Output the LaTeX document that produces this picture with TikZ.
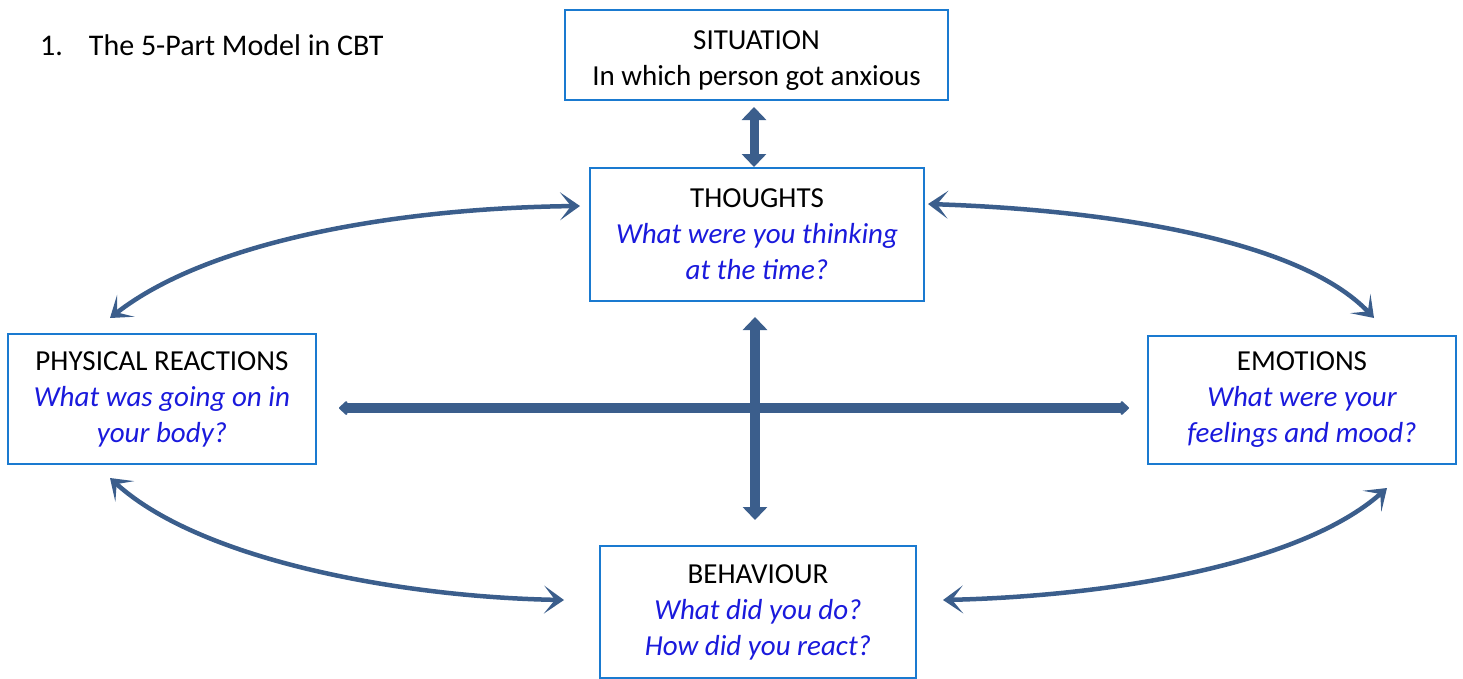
\documentclass[tikz,border=0pt]{standalone}
\usepackage{fontspec}
\setmainfont{Carlito}
\usetikzlibrary{arrows.meta}
\definecolor{boxblue}{HTML}{1A7AD0}
\definecolor{arrowblue}{HTML}{3B5E8C}
\definecolor{qblue}{HTML}{1A1ADC}
\tikzset{
  partbox/.style={draw=boxblue, line width=2pt, align=center, inner sep=0pt,
    font=\fontsize{29}{36}\selectfont},
  thickarrow/.style={draw=arrowblue, line width=9pt,
    {Triangle[width=24pt,length=13pt]}-{Triangle[width=24pt,length=13pt]}},
  flatarrow/.style={draw=arrowblue, line width=10pt,
    {Triangle[width=16pt,length=9pt,round]}-{Triangle[width=16pt,length=9pt,round]}},
  curvearrow/.style={draw=arrowblue, line width=4.5pt,
    {Stealth[length=20pt,width=28pt,inset=11pt]}-{Stealth[length=20pt,width=28pt,inset=11pt]}}
}
\newcommand{\qtext}[1]{\textcolor{qblue}{\itshape #1}}
\begin{document}
\begin{tikzpicture}[x=1pt,y=-1pt]
\useasboundingbox (0,0) rectangle (1463,678);
\node[anchor=west, font=\fontsize{30}{36}\selectfont, inner sep=0pt] (title) at (40,45) {1.\hspace{26pt}The 5-Part Model in CBT};

\node[partbox, minimum width=383pt, minimum height=90pt,
  label={[align=center, font=\fontsize{29}{36}\selectfont, inner sep=0pt, yshift=-6pt]center:SITUATION\\In which person got anxious}] (situation) at (756.5,55) {};
\node[partbox, minimum width=334pt, minimum height=133pt] (thoughts) at (757,234.5)
  {THOUGHTS\\\qtext{What were you thinking}\\\qtext{at the time?}};
\node[partbox, minimum width=308pt, minimum height=130pt] (physical) at (162,399)
  {PHYSICAL REACTIONS\\\qtext{What was going on in}\\\qtext{your body?}};
\node[partbox, minimum width=308pt, minimum height=128pt] (emotions) at (1302,400)
  {EMOTIONS\\\qtext{What were your}\\\qtext{feelings and mood?}};
\node[partbox, minimum width=316pt, minimum height=132pt] (behaviour) at (758,612)
  {BEHAVIOUR\\\qtext{What did you do?}\\\qtext{How did you react?}};

% straight arrows
\coordinate (s1) at (754,107);
\coordinate (s2) at (754,167);
\draw[thickarrow] (s1) -- (s2);
\coordinate (v1) at (755,317);
\coordinate (v2) at (755,520);
\draw[thickarrow, line width=10pt] (v1) -- (v2);
\coordinate (h1) at (339,408);
\coordinate (h2) at (1129,408);
\draw[flatarrow] (h1) -- (h2);

% curved arrows
\coordinate (tl1) at (110,318);
\coordinate (tl2) at (580,206);
\draw[curvearrow] (tl1) .. controls (210,240) and (400,208) .. (tl2);
\coordinate (tr1) at (928,204);
\coordinate (tr2) at (1374,318);
\draw[curvearrow] (tr1) .. controls (1110,210) and (1300,240) .. (tr2);
\coordinate (bl1) at (110,478);
\coordinate (bl2) at (564,600);
\draw[curvearrow] (bl1) .. controls (200,560) and (400,597) .. (bl2);
\coordinate (br1) at (943,600);
\coordinate (br2) at (1387,488);
\draw[curvearrow] (br1) .. controls (1110,596) and (1300,565) .. (br2);
\end{tikzpicture}
\end{document}
